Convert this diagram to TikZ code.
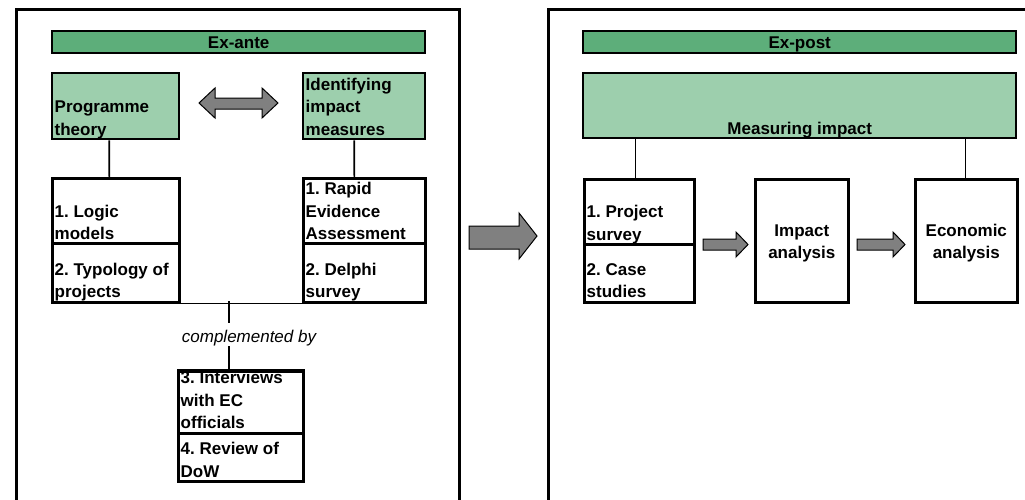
\documentclass[tikz,border=0pt]{standalone}
\usepackage{fontspec}
\setmainfont{Liberation Sans}
\frenchspacing
\definecolor{dkgreen}{RGB}{93,174,122}
\definecolor{ltgreen}{RGB}{157,207,173}
\definecolor{arrowgray}{RGB}{128,128,128}
\tikzset{
  frame/.style={line width=3pt},
  bar/.style={draw, line width=2.4pt, fill=dkgreen, inner sep=0pt, anchor=north west,
    font=\fontsize{17}{22.5}\selectfont\bfseries, text height=12pt, text depth=0pt},
  hdr/.style={draw, line width=2.4pt, fill=ltgreen, inner sep=0pt, anchor=north west},
  box/.style={draw, line width=2.6pt, fill=white, inner sep=0pt, anchor=north west},
  txt/.style={inner sep=0pt, font=\fontsize{17}{22.5}\selectfont\bfseries, align=left,
    text depth=0pt, anchor=south west},
  ctxt/.style={inner sep=0pt, font=\fontsize{17}{22.5}\selectfont\bfseries, align=center,
    text depth=0pt, anchor=south},
  itxt/.style={inner sep=0pt, font=\fontsize{17}{22.5}\selectfont\itshape, anchor=base},
  link/.style={line width=1.6pt},
  blockarrow/.style={draw, line width=1pt, fill=arrowgray, line join=miter}
}
\begin{document}
\begin{tikzpicture}[x=1pt, y=-1pt]
\useasboundingbox (0,0) rectangle (1025,499);
\fill[white] (0,0) rectangle (1025,499);

% outer frames
\draw[frame] (16,520) -- (16,9) -- (459,9) -- (459,520);
\draw[frame] (548,520) -- (548,9) -- (1040,9);

% ---------- Ex-ante ----------
\node[bar, minimum width=373pt, minimum height=22pt] (exa) at (51,30) {Ex-ante};
\node[hdr, minimum width=127pt, minimum height=66pt] (pt) at (51,72) {};
\node[hdr, minimum width=122pt, minimum height=66pt] (im) at (302,72) {};

\node[box, minimum width=127pt, minimum height=65pt] (lm) at (51,177) {};
\node[box, minimum width=127pt, minimum height=59pt] (ty) at (51,242) {};
\node[box, minimum width=122pt, minimum height=65pt] (ra) at (302,177) {};
\node[box, minimum width=122pt, minimum height=59pt] (de) at (302,242) {};

\node[box, minimum width=125pt, minimum height=62pt] (iv) at (177,370) {};
\node[box, minimum width=125pt, minimum height=48pt] (rv) at (177,432) {};

% connectors
\draw[link] ([xshift=-6.5pt]pt.south) -- ([xshift=-6.5pt]lm.north);
\draw[link] ([xshift=-10pt]im.south) -- ([xshift=-10pt]ra.north);
\draw[link] (ty.south east) -- (de.south west);
\coordinate (j) at (229,301);
\draw[link] (j) -- ++(0,22);
\draw[link] (j |- iv.north) -- ++(0,-24);
\node[itxt] (cb) at (249,342.5) {complemented by};

% double arrow
\draw[blockarrow] (199,103) -- (215,88) -- (215,98) -- (262,98) -- (262,88) -- (278,103)
  -- (262,118) -- (262,109) -- (215,109) -- (215,118) -- cycle;

% texts
\node[txt] (ptt) at ([xshift=3.5pt,yshift=5pt]pt.south west) {Programme\\theory};
\node[txt] (imt) at ([xshift=3.5pt,yshift=5pt]im.south west) {Identifying\\impact\\measures};
\node[txt] (lmt) at ([xshift=3.5pt,yshift=4.5pt]lm.south west) {1. Logic\\models};
\node[txt] (tyt) at ([xshift=3.5pt,yshift=5.5pt]ty.south west) {2. Typology of\\projects};
\node[txt] (rat) at ([xshift=3.5pt,yshift=4.5pt]ra.south west) {1. Rapid\\Evidence\\Assessment};
\node[txt] (det) at ([xshift=3.5pt,yshift=5.5pt]de.south west) {2. Delphi\\survey};
\begin{scope}
\clip (177,370) rectangle (302,480);
\node[txt] (ivt) at ([xshift=3.5pt,yshift=5.5pt]iv.south west) {3. Interviews\\with EC\\officials};
\end{scope}
\node[txt] (rvt) at ([xshift=3.5pt,yshift=5pt]rv.south west) {4. Review of\\DoW};
\draw[line width=2.6pt] (iv.north west) -- (iv.north east);

% big arrow
\draw[blockarrow] (469,226) -- (519,226) -- (519,213) -- (537,236) -- (519,259)
  -- (519,249) -- (469,249) -- cycle;

% ---------- Ex-post ----------
\node[bar, minimum width=433pt, minimum height=22pt] (exp) at (582,30) {Ex-post};
\node[hdr, minimum width=433pt, minimum height=65pt] (mi) at (582,72) {};
\node[ctxt] (mit) at ([yshift=4.5pt]mi.south) {Measuring impact};

\node[box, minimum width=110pt, minimum height=65pt] (ps) at (583,178) {};
\node[box, minimum width=110pt, minimum height=58pt] (cs) at (583,243) {};
\node[box, minimum width=93pt, minimum height=123pt] (ia) at (754,178) {};
\node[box, minimum width=102pt, minimum height=123pt] (ea) at (914,178) {};

\draw[link] ([xshift=-4pt]ps.north) -- ([xshift=-4pt]ps.north |- mi.south);
\draw[link] ([xshift=-1pt]ea.north) -- ([xshift=-1pt]ea.north |- mi.south);

\node[txt] (pst) at ([xshift=3.5pt,yshift=5pt]ps.south west) {1. Project\\survey};
\node[txt] (cst) at ([xshift=3.5pt,yshift=5.5pt]cs.south west) {2. Case\\studies};
\node[ctxt] (iat) at ([yshift=44.5pt]ia.south) {Impact\\analysis};
\node[ctxt] (eat) at ([yshift=44.5pt]ea.south) {Economic\\analysis};

\draw[blockarrow] (703,239) -- (736,239) -- (736,232) -- (748,244.5) -- (736,257)
  -- (736,250) -- (703,250) -- cycle;
\draw[blockarrow] (857,239) -- (893,239) -- (893,232) -- (905,244.5) -- (893,257)
  -- (893,250) -- (857,250) -- cycle;
\end{tikzpicture}
\end{document}
